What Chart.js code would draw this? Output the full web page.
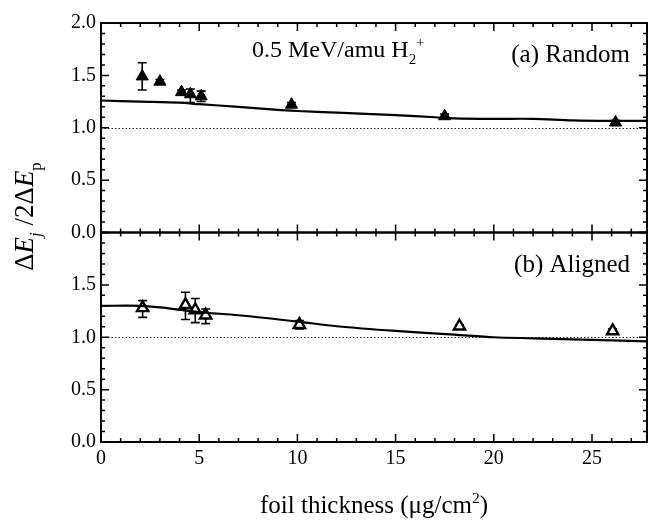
<!DOCTYPE html>
<html><head><meta charset="utf-8">
<script src="https://cdn.jsdelivr.net/npm/chart.js@4/dist/chart.umd.min.js"></script>
<style>html,body{margin:0;padding:0;background:#fff}#wrap{width:648px;height:523px;position:relative}</style>
</head><body><div id="wrap"><canvas id="c" width="648" height="523"></canvas></div>
<script>
// ---- data ----
const randomX       = [2.1, 3.0, 4.1, 4.55, 5.1, 9.7, 17.5, 26.2];
const randomY       = [1.49, 1.44, 1.34, 1.32, 1.30, 1.22, 1.11, 1.05];
const randomErrLow  = [1.36, 1.42, 1.32, 1.24, 1.25, 1.20, 1.09, 1.03];
const randomErrHigh = [1.62, 1.46, 1.36, 1.37, 1.35, 1.24, 1.13, 1.07];

const alignedX       = [2.12, 4.3, 4.8, 5.33, 10.1, 18.25, 26.05];
const alignedY       = [1.28, 1.31, 1.26, 1.21, 1.12, 1.105, 1.06];
const alignedErrLow  = [1.19, 1.17, 1.14, 1.13, 1.08, 1.09, 1.04];
const alignedErrHigh = [1.35, 1.43, 1.37, 1.27, 1.16, 1.12, 1.08];

const randomFitX = [0, 2, 4, 5, 7, 9, 10, 12, 15, 17, 18, 20, 22, 24, 26, 28];
const randomFitY = [1.26, 1.25, 1.24, 1.225, 1.2, 1.17, 1.16, 1.145, 1.12, 1.10, 1.09, 1.085, 1.085, 1.07, 1.065, 1.065];

const alignedFitX = [0, 2, 3, 5, 7, 10, 12, 15, 18, 20, 22, 25, 28];
const alignedFitY = [1.30, 1.30, 1.285, 1.24, 1.21, 1.15, 1.105, 1.06, 1.025, 1.0, 0.99, 0.975, 0.96];

const referenceLevel = 1.0;
const xTickValues = [0, 5, 10, 15, 20, 25];
const yTickValues = [0.0, 0.5, 1.0, 1.5, 2.0];

const SERIF = '"Liberation Serif", "DejaVu Serif", serif';
const pts = (xs, ys) => xs.map((x, i) => ({x, y: ys[i]}));

function drawErr(chart, xs, lo, hi, yid) {
  const ctx = chart.ctx, sx = chart.scales.x, sy = chart.scales[yid];
  ctx.save();
  ctx.strokeStyle = '#000'; ctx.lineWidth = 1.6;
  xs.forEach((x, i) => {
    const px = sx.getPixelForValue(x);
    const p1 = sy.getPixelForValue(lo[i]), p2 = sy.getPixelForValue(hi[i]);
    ctx.beginPath();
    ctx.moveTo(px, p1); ctx.lineTo(px, p2);
    ctx.moveTo(px - 4.5, p1); ctx.lineTo(px + 4.5, p1);
    ctx.moveTo(px - 4.5, p2); ctx.lineTo(px + 4.5, p2);
    ctx.stroke();
  });
  ctx.restore();
}

function drawPieces(ctx, pieces, x, y, size) {
  let cx = x;
  for (const [t, it, off, sc] of pieces) {
    const fs = size * (sc || 1);
    ctx.font = (it ? 'italic ' : '') + fs + 'px ' + SERIF;
    ctx.fillText(t, cx, y + (off || 0) * size);
    cx += ctx.measureText(t).width;
  }
  return cx - x;
}
function measurePieces(ctx, pieces, size) {
  let w = 0;
  for (const [t, it, off, sc] of pieces) {
    ctx.font = (it ? 'italic ' : '') + size * (sc || 1) + 'px ' + SERIF;
    w += ctx.measureText(t).width;
  }
  return w;
}

const panelPlugin = {
  id: 'panels',
  beforeDatasetsDraw(chart) {
    const ctx = chart.ctx, xs = chart.scales.x;
    for (const id of ['yTop', 'yBot']) {
      const py = Math.round(chart.scales[id].getPixelForValue(referenceLevel)) + 0.5;
      ctx.save();
      ctx.strokeStyle = '#222'; ctx.lineWidth = 1; ctx.setLineDash([1.5, 2]);
      ctx.beginPath(); ctx.moveTo(xs.left, py); ctx.lineTo(xs.right, py); ctx.stroke();
      ctx.restore();
    }
    drawErr(chart, randomX, randomErrLow, randomErrHigh, 'yTop');
    drawErr(chart, alignedX, alignedErrLow, alignedErrHigh, 'yBot');
  },
  afterDraw(chart) {
    const ctx = chart.ctx, xs = chart.scales.x;
    const L = xs.left, R = xs.right;
    ctx.save();
    ctx.strokeStyle = '#000';
    for (const id of ['yTop', 'yBot']) {
      const ys = chart.scales[id];
      const T = ys.getPixelForValue(2), B = ys.getPixelForValue(0);
      ctx.lineWidth = 2;
      ctx.strokeRect(L, T, R - L, B - T);
      ctx.lineWidth = 1.5;
      ctx.beginPath();
      for (let k = 0; k <= 20; k++) {
        const py = ys.getPixelForValue(k / 10);
        const len = (k % 5 === 0) ? 8 : 4;
        ctx.moveTo(L, py); ctx.lineTo(L + len, py);
        ctx.moveTo(R, py); ctx.lineTo(R - len, py);
      }
      for (let k = 0; k <= 28; k++) {
        if (k > xs.max) break;
        const px = xs.getPixelForValue(k);
        const len = (k % 5 === 0) ? 8 : 4;
        ctx.moveTo(px, B); ctx.lineTo(px, B - len);
        ctx.moveTo(px, T); ctx.lineTo(px, T + len);
      }
      ctx.stroke();
    }
    ctx.restore();

    ctx.save();
    ctx.fillStyle = '#000';
    ctx.textBaseline = 'alphabetic';
    const yT = chart.scales.yTop, yB = chart.scales.yBot;
    const topT = yT.getPixelForValue(2), botT = yB.getPixelForValue(2);
    drawPieces(ctx, [['0.5 MeV/amu H', false, 0, 1], ['2', false, 0.3, 0.62], ['+', false, -0.42, 0.62]], 252, topT + 34, 24);
    const pa = [['(a) Random', false, 0, 1]];
    let w = measurePieces(ctx, pa, 25);
    drawPieces(ctx, pa, 630 - w, topT + 39, 25);
    const pb = [['(b) Aligned', false, 0, 1]];
    w = measurePieces(ctx, pb, 25);
    drawPieces(ctx, pb, 630 - w, botT + 39, 25);

    const xt = [['foil thickness (\u03bcg/cm', false, 0, 1], ['2', false, -0.42, 0.62], [')', false, 0, 1]];
    w = measurePieces(ctx, xt, 25);
    drawPieces(ctx, xt, (L + R) / 2 - w / 2, 513, 25);

    const yt = [['\u0394', false, 0, 1], ['E', true, 0, 1], ['j', true, 0.3, 0.62], [' /2\u0394', false, 0, 1], ['E', true, 0, 1], ['p', false, 0.3, 0.62]];
    const midY = yB.getPixelForValue(2) - 16;
    w = measurePieces(ctx, yt, 27);
    ctx.translate(33, midY);
    ctx.rotate(-Math.PI / 2);
    drawPieces(ctx, yt, -w / 2, 0, 27);
    ctx.restore();
  }
};

const tickFont = {family: SERIF, size: 20};
new Chart(document.getElementById('c'), {
  type: 'scatter',
  data: {
    datasets: [
      {label: 'Random fit', data: pts(randomFitX, randomFitY), yAxisID: 'yTop', showLine: true,
       borderColor: '#000', borderWidth: 2.2, pointRadius: 0, tension: 0.3},
      {label: 'Aligned fit', data: pts(alignedFitX, alignedFitY), yAxisID: 'yBot', showLine: true,
       borderColor: '#000', borderWidth: 2.2, pointRadius: 0, tension: 0.3},
      {label: 'Random', data: pts(randomX, randomY), yAxisID: 'yTop', pointStyle: 'triangle',
       pointRadius: 7, backgroundColor: '#000', borderColor: '#000', borderWidth: 1},
      {label: 'Aligned', data: pts(alignedX, alignedY), yAxisID: 'yBot', pointStyle: 'triangle',
       pointRadius: 6.5, backgroundColor: '#fff', borderColor: '#000', borderWidth: 2.4}
    ]
  },
  options: {
    responsive: false, animation: false, devicePixelRatio: 1,
    layout: {autoPadding: false, padding: {top: 23, right: 1, left: 0, bottom: 0}},
    plugins: {legend: {display: false}, tooltip: {enabled: false}},
    scales: {
      x: {type: 'linear', position: 'bottom', min: 0, max: 27.8,
          afterBuildTicks: s => { s.ticks = xTickValues.map(v => ({value: v})); },
          ticks: {font: tickFont, color: '#000', padding: 5, maxRotation: 0, autoSkip: false},
          grid: {display: false, drawTicks: false}, border: {display: false},
          afterFit: s => { s.height = 81; s.paddingLeft = 0; s.paddingRight = 0; }},
      yBot: {type: 'linear', position: 'left', stack: 'panels', stackWeight: 1, min: 0, max: 2,
          afterBuildTicks: s => { s.ticks = yTickValues.filter(v => v < 2).map(v => ({value: v})); },
          ticks: {font: tickFont, color: '#000', padding: 5, autoSkip: false, callback: v => v.toFixed(1)},
          grid: {display: false, drawTicks: false}, border: {display: false},
          afterFit: s => { s.width = 101; s.paddingTop = 0; s.paddingBottom = 0; }},
      yTop: {type: 'linear', position: 'left', stack: 'panels', stackWeight: 1, min: 0, max: 2,
          afterBuildTicks: s => { s.ticks = yTickValues.map(v => ({value: v})); },
          ticks: {font: tickFont, color: '#000', padding: 5, autoSkip: false, callback: v => v.toFixed(1)},
          grid: {display: false, drawTicks: false}, border: {display: false},
          afterFit: s => { s.width = 101; s.paddingTop = 0; s.paddingBottom = 0; }}
    }
  },
  plugins: [panelPlugin]
});
</script>
</body></html>
